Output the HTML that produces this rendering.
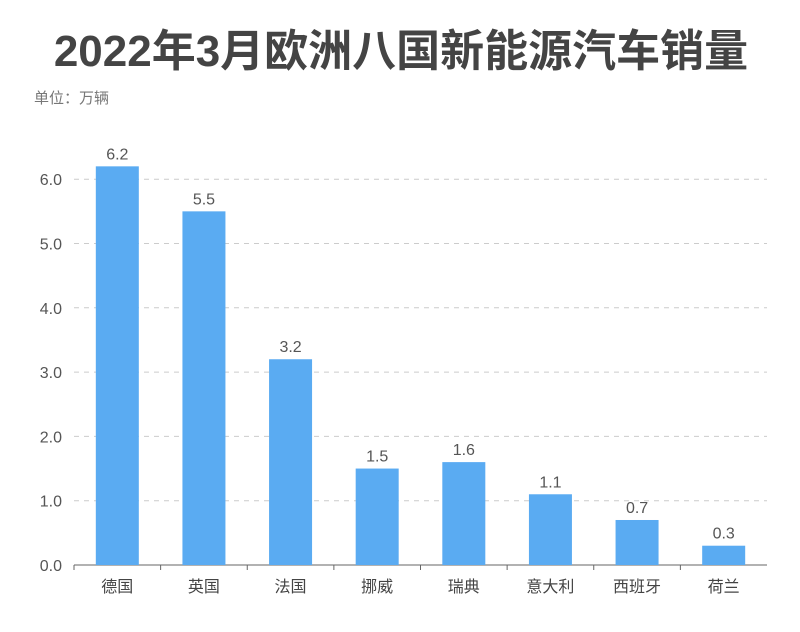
<!DOCTYPE html>
<html><head><meta charset="utf-8"><style>
html,body{margin:0;padding:0;background:#fff;}
body{width:800px;height:627px;overflow:hidden;font-family:"Liberation Sans","Noto Sans CJK SC",sans-serif;}
</style></head><body>
<svg id="chart" width="800" height="627" xmlns="http://www.w3.org/2000/svg">
<text x="401" y="66" text-anchor="middle" font-size="44" font-weight="bold" fill="#444" font-family="Liberation Sans, Noto Sans CJK SC, sans-serif">2022年3月欧洲八国新能源汽车销量</text>
<text x="34" y="103" font-size="15" fill="#777" font-family="Liberation Sans, Noto Sans CJK SC, sans-serif">单位：万辆</text>
<g id="grid"></g><g id="bars"></g><g id="labels"></g>
</svg>
<script>
const categories=["德国","英国","法国","挪威","瑞典","意大利","西班牙","荷兰"];
const values=[6.2,5.5,3.2,1.5,1.6,1.1,0.7,0.3];
const yTicks=[0,1,2,3,4,5,6];
const NS="http://www.w3.org/2000/svg";
const x0=74,x1=767,y0=565,unit=64.3;
const band=(x1-x0)/categories.length,bw=43;
const ys=v=>y0-v*unit;
const xs=i=>x0+band*i+band/2;
function mk(t,a,p){const e=document.createElementNS(NS,t);for(const k in a)e.setAttribute(k,a[k]);p.appendChild(e);return e;}
const grid=document.getElementById('grid'),bars=document.getElementById('bars'),labels=document.getElementById('labels');
const ff="Liberation Sans, Noto Sans CJK SC, sans-serif";
yTicks.forEach(t=>{
 if(t>0){const l=mk('line',{x1:x0,x2:x1,y1:ys(t),y2:ys(t),stroke:'#ccc','stroke-dasharray':'5,5'},grid);
 }
 const tx=mk('text',{x:62,y:ys(t)+6,'text-anchor':'end','font-size':16,fill:'#555','font-family':ff},grid);
 tx.textContent=t.toFixed(1);
 
});
const ax=mk('line',{x1:x0,x2:x1,y1:y0,y2:y0,stroke:'#666'},grid);

categories.forEach((c,i)=>{
 const r=mk('rect',{x:xs(i)-bw/2,y:ys(values[i]),width:bw,height:values[i]*unit,fill:'#5aabf2'},bars);
 
 const v=mk('text',{x:xs(i),y:ys(values[i])-7,'text-anchor':'middle','font-size':16,fill:'#555','font-family':ff},labels);
 v.textContent=values[i].toFixed(1);
 
 const tk=mk('line',{x1:xs(i)-band/2,x2:xs(i)-band/2,y1:y0,y2:y0+5,stroke:'#666'},grid);
 
 const cl=mk('text',{x:xs(i),y:592,'text-anchor':'middle','font-size':16,fill:'#444','font-family':ff},labels);
 cl.textContent=c;
 
});
</script>
</body></html>
